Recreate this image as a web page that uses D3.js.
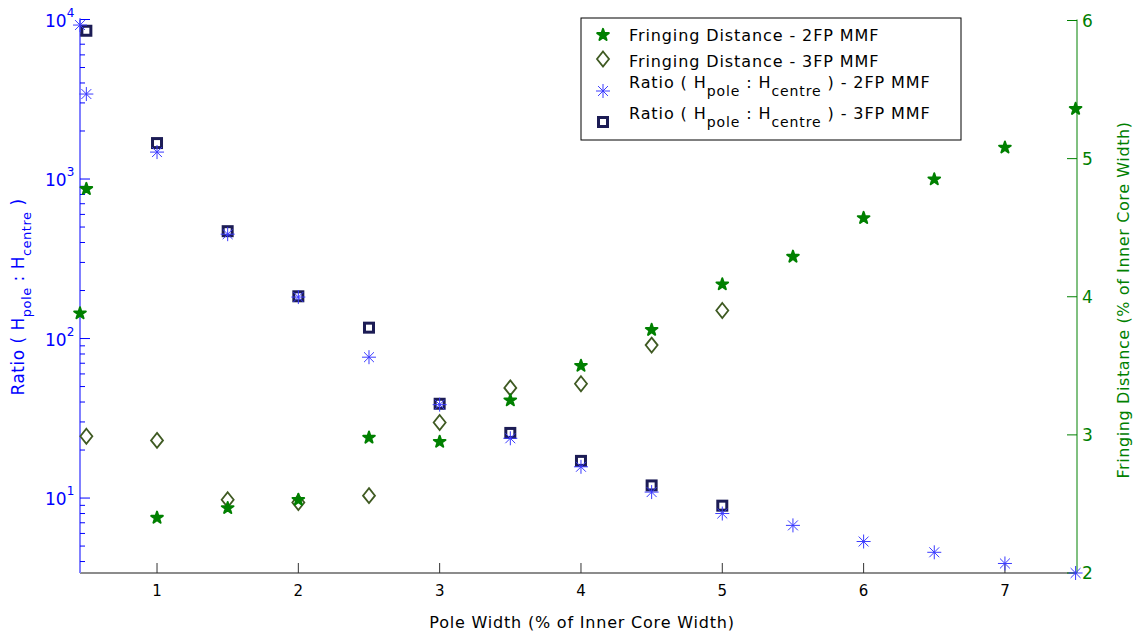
<!DOCTYPE html>
<html>
<head>
<meta charset="utf-8">
<script src="https://cdn.jsdelivr.net/npm/d3@7"></script>
<style>
  body { margin: 0; background: #fff; }
  svg { display: block; font-family: "DejaVu Sans", sans-serif; }
</style>
</head>
<body>
<div id="viz"></div>
<script>
// pole width (% of inner core width)
var poleWidth2FP = [0.455, 0.5, 1, 1.5, 2, 2.5, 3, 3.5, 4, 4.5, 5, 5.5, 6, 6.5, 7, 7.5];
var poleWidth3FP = [0.5, 1, 1.5, 2, 2.5, 3, 3.5, 4, 4.5, 5];

// fringing distance (right axis)
var fringe2FP = [3.88, 4.78, 2.40, 2.47, 2.53, 2.98, 2.95, 3.25, 3.50, 3.76, 4.09, 4.29, 4.57, 4.85, 5.08, 5.36];
var fringe3FP = [2.99, 2.96, 2.53, 2.51, 2.56, 3.09, 3.34, 3.37, 3.65, 3.90];

// ratio H_pole : H_centre (left log axis)
var ratio2FP = [9230, 3410, 1475, 451, 182, 76.4, 38.5, 23.7, 15.7, 10.9, 8.0, 6.74, 5.34, 4.57, 3.89, 3.39];
var ratio3FP = [8500, 1680, 471, 184, 117, 39, 25.6, 17.1, 12.0, 8.96];

var xTicks = [1, 2, 3, 4, 5, 6, 7];
var leftTicks = [10, 100, 1000, 10000];
var rightTicks = [2, 3, 4, 5, 6];

var w = 1137, h = 637;
var pLeft = 80, pRight = 1077, pTop = 19.5, pBottom = 573;

var blue = '#0000ff', green = '#008000';

var svg = d3.select('#viz').append('svg')
	.attr('width', w)
	.attr('height', h);

var x = d3.scaleLinear().domain([0.455, 7.51]).range([pLeft, pRight]);
var yL = d3.scaleLog().domain([3.39, 10000]).range([pBottom, pTop]);
var yR = d3.scaleLinear().domain([2, 6]).range([pBottom, pTop + 1]);

// x axis
svg.append('line')
	.attr('x1', pLeft).attr('x2', pRight)
	.attr('y1', pBottom).attr('y2', pBottom)
	.style('stroke', '#666').style('stroke-width', 1.5);

svg.selectAll('.xtick').data(xTicks).enter().append('line')
	.attr('x1', function (d) { return x(d); })
	.attr('x2', function (d) { return x(d); })
	.attr('y1', pBottom).attr('y2', pBottom - 10)
	.style('stroke', '#333');

svg.selectAll('.xlab').data(xTicks).enter().append('text')
	.attr('x', function (d) { return x(d); })
	.attr('y', pBottom + 23)
	.attr('text-anchor', 'middle')
	.style('font-size', '15px')
	.text(String);

svg.append('text')
	.attr('x', 582).attr('y', 628)
	.attr('text-anchor', 'middle')
	.style('font-size', '16px')
	.style('letter-spacing', '0.8px')
	.text('Pole Width (% of Inner Core Width)');

// left log axis
svg.append('line')
	.attr('x1', pLeft).attr('x2', pLeft)
	.attr('y1', pTop).attr('y2', pBottom)
	.style('stroke', '#8080ff').style('stroke-width', 2);

var minor = yL.ticks().filter(function (d) { return leftTicks.indexOf(d) < 0; });
svg.selectAll('.lminor').data(minor).enter().append('line')
	.attr('x1', pLeft).attr('x2', pLeft + 5)
	.attr('y1', function (d) { return yL(d); })
	.attr('y2', function (d) { return yL(d); })
	.style('stroke', blue);

svg.selectAll('.lmajor').data(leftTicks).enter().append('line')
	.attr('x1', pLeft).attr('x2', pLeft + 10)
	.attr('y1', function (d) { return yL(d); })
	.attr('y2', function (d) { return yL(d); })
	.style('stroke', blue);

var llab = svg.selectAll('.llab').data(leftTicks).enter().append('text')
	.attr('x', 45)
	.attr('y', function (d) { return yL(d) + 7; })
	.style('fill', blue)
	.style('font-size', '17px');
llab.append('tspan').text('10');
llab.append('tspan')
	.attr('dy', -10)
	.style('font-size', '12px')
	.text(function (d) { return Math.round(Math.log10(d)); });

var ylab = svg.append('text')
	.attr('transform', 'translate(24,297) rotate(-90)')
	.attr('text-anchor', 'middle')
	.style('fill', blue)
	.style('font-size', '17px')
	.style('letter-spacing', '0.5px');
ylab.append('tspan').text('Ratio ( H');
ylab.append('tspan').attr('dy', 7).style('font-size', '13px').text('pole');
ylab.append('tspan').attr('dy', -7).text(' : H');
ylab.append('tspan').attr('dy', 7).style('font-size', '13px').text('centre');
ylab.append('tspan').attr('dy', -7).text(' )');

// right axis
svg.append('line')
	.attr('x1', pRight).attr('x2', pRight)
	.attr('y1', pTop).attr('y2', pBottom)
	.style('stroke', '#80c080').style('stroke-width', 2);

svg.selectAll('.rtick').data(rightTicks).enter().append('line')
	.attr('x1', pRight).attr('x2', pRight - 10)
	.attr('y1', function (d) { return yR(d); })
	.attr('y2', function (d) { return yR(d); })
	.style('stroke', green);

svg.selectAll('.rlab').data(rightTicks).enter().append('text')
	.attr('x', pRight + 5)
	.attr('y', function (d) { return yR(d) + 6; })
	.style('fill', green)
	.style('font-size', '17px')
	.text(String);

svg.append('text')
	.attr('transform', 'translate(1129,300) rotate(-90)')
	.attr('text-anchor', 'middle')
	.style('fill', green)
	.style('font-size', '16px')
	.style('letter-spacing', '0.6px')
	.text('Fringing Distance (% of Inner Core Width)');

// markers
var star = d3.symbol().type(d3.symbolStar).size(42);
var diamondPath = 'M0,-7.5L6,0L0,7.5L-6,0Z';

function asterisk(s) {
	var d = s * 0.707;
	return 'M' + (-s) + ',0L' + s + ',0M0,' + (-s) + 'L0,' + s +
		'M' + (-d) + ',' + (-d) + 'L' + d + ',' + d +
		'M' + (-d) + ',' + d + 'L' + d + ',' + (-d);
}

function drawStars(g, xs, ys) {
	g.selectAll('path.star').data(ys).enter().append('path')
		.attr('class', 'star')
		.attr('d', star)
		.attr('transform', function (d, i) { return 'translate(' + x(xs[i]) + ',' + yR(d) + ')'; })
		.style('fill', green).style('stroke', green).style('stroke-width', 2)
		.style('stroke-linejoin', 'round');
}

function drawDiamonds(g, xs, ys) {
	g.selectAll('path.dia').data(ys).enter().append('path')
		.attr('class', 'dia')
		.attr('d', diamondPath)
		.attr('transform', function (d, i) { return 'translate(' + x(xs[i]) + ',' + yR(d) + ')'; })
		.style('fill', 'none').style('stroke', '#3f5a22').style('stroke-width', 1.8);
}

function drawSquares(g, xs, ys) {
	g.selectAll('rect.sq').data(ys).enter().append('rect')
		.attr('class', 'sq')
		.attr('x', function (d, i) { return x(xs[i]) - 4.5; })
		.attr('y', function (d) { return yL(d) - 4.5; })
		.attr('width', 9).attr('height', 9)
		.style('fill', 'none').style('stroke', '#1c1c55').style('stroke-width', 3);
}

function drawAsterisks(g, xs, ys) {
	g.selectAll('path.ast').data(ys).enter().append('path')
		.attr('class', 'ast')
		.attr('d', asterisk(7))
		.attr('transform', function (d, i) { return 'translate(' + x(xs[i]) + ',' + yL(d) + ')'; })
		.style('fill', 'none').style('stroke', '#3a3aff').style('stroke-width', 1);
}

var marks = svg.append('g');
drawDiamonds(marks.append('g'), poleWidth3FP, fringe3FP);
drawStars(marks.append('g'), poleWidth2FP, fringe2FP);
drawSquares(marks.append('g'), poleWidth3FP, ratio3FP);
drawAsterisks(marks.append('g'), poleWidth2FP, ratio2FP);

// legend
var lg = svg.append('g').attr('transform', 'translate(581,18)');
lg.append('rect')
	.attr('width', 380).attr('height', 122)
	.style('fill', '#fff').style('stroke', '#000').style('stroke-width', 1);

var legendRows = [
	{type: 'star', y: 17, sub: null, label: 'Fringing Distance - 2FP MMF'},
	{type: 'dia', y: 43, sub: null, label: 'Fringing Distance - 3FP MMF'},
	{type: 'ast', y: 70, sub: '2FP MMF'},
	{type: 'sq', y: 101, sub: '3FP MMF'}
];

legendRows.forEach(function (r) {
	var mx = 22;
	if (r.type === 'star') {
		lg.append('path').attr('d', star).attr('transform', 'translate(' + mx + ',' + r.y + ')')
			.style('fill', green).style('stroke', green).style('stroke-width', 2)
			.style('stroke-linejoin', 'round');
	} else if (r.type === 'dia') {
		lg.append('path').attr('d', diamondPath).attr('transform', 'translate(' + mx + ',' + (r.y - 2) + ')')
			.style('fill', 'none').style('stroke', '#3f5a22').style('stroke-width', 1.8);
	} else if (r.type === 'ast') {
		lg.append('path').attr('d', asterisk(7)).attr('transform', 'translate(' + mx + ',' + (r.y + 3) + ')')
			.style('fill', 'none').style('stroke', '#3a3aff');
	} else {
		lg.append('rect').attr('x', mx - 4.5).attr('y', r.y - 1.5).attr('width', 9).attr('height', 9)
			.style('fill', 'none').style('stroke', '#1c1c55').style('stroke-width', 3);
	}
	var t = lg.append('text').attr('x', 48)
		.style('font-size', '16px').style('letter-spacing', '0.9px');
	if (r.sub === null) {
		t.attr('y', r.y + 6).text(r.label);
	} else {
		t.attr('y', r.y);
		t.append('tspan').text('Ratio ( H');
		t.append('tspan').attr('dy', 8).style('font-size', '14px').text('pole');
		t.append('tspan').attr('dy', -8).text(' : H');
		t.append('tspan').attr('dy', 8).style('font-size', '14px').text('centre');
		t.append('tspan').attr('dy', -8).text(' ) - ' + r.sub);
	}
});
</script>
</body>
</html>
